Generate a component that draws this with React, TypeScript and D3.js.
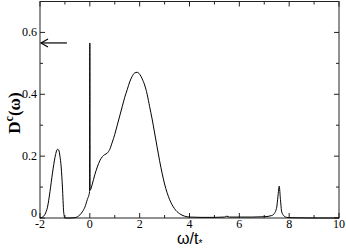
import * as d3 from "d3";

// spectral function D^c(omega)
const omega = [
	-2, -1.9, -1.8, -1.7, -1.6, -1.5, -1.4, -1.3, -1.25, -1.2, -1.15, -1.1, -1.05, -1.0,
	-0.8, -0.6, -0.5, -0.4, -0.3, -0.2, -0.1, -0.01, 0, 0.01, 0.1, 0.2, 0.3, 0.4, 0.5,
	0.6, 0.7, 0.8, 0.9, 1.0, 1.1, 1.2, 1.3, 1.4, 1.5, 1.6, 1.7, 1.8, 1.9, 2.0, 2.1, 2.2,
	2.3, 2.4, 2.5, 2.6, 2.7, 2.8, 2.9, 3.0, 3.1, 3.2, 3.4, 3.6, 3.8, 4.0, 4.5, 5.0, 5.4,
	5.5, 5.6, 6.0, 6.5, 7.0, 7.3, 7.4, 7.5, 7.55, 7.6, 7.65, 7.7, 7.8, 7.9, 8.0, 9.0, 10.0,
];
const dos = [
	0.0, 0.003, 0.012, 0.035, 0.085, 0.145, 0.195, 0.222, 0.22, 0.2, 0.165, 0.1, 0.02, 0.0,
	0.0, 0.001, 0.004, 0.01, 0.02, 0.035, 0.06, 0.085, 0.566, 0.09, 0.11, 0.14, 0.165, 0.185, 0.198,
	0.205, 0.21, 0.222, 0.245, 0.27, 0.3, 0.33, 0.36, 0.39, 0.415, 0.44, 0.458, 0.469, 0.471, 0.465, 0.45, 0.43,
	0.4, 0.36, 0.32, 0.275, 0.23, 0.185, 0.145, 0.11, 0.082, 0.06, 0.03, 0.014, 0.006, 0.003, 0.002, 0.002, 0.003,
	0.006, 0.003, 0.003, 0.003, 0.004, 0.008, 0.014, 0.035, 0.07, 0.103, 0.06, 0.02, 0.006, 0.002, 0.001, 0, 0,
];

const xMajor = [-2, 0, 2, 4, 6, 8, 10];
const xMinor = [-1, 1, 3, 5, 7, 9];
const yMajor = [0, 0.2, 0.4, 0.6];
const yMinor = [0.1, 0.3, 0.5];
const arrowY = 0.566;
const arrowFrom = -0.92;

const serif = "'Liberation Serif', 'Times New Roman', serif";
const sans = "'Liberation Sans', Arial, sans-serif";

function App() {
	const width = 346;
	const height = 249;
	const left = 40;
	const right = 339;
	const top = 1.5;
	const bottom = 218;

	const x = d3.scaleLinear().domain([-2, 10]).range([left, right]);
	const y = d3.scaleLinear().domain([0, 0.7]).range([bottom, top]);

	const pts: [number, number][] = omega.map((w, i) => [w, dos[i]]);
	const line = d3
		.line<[number, number]>()
		.x((d) => x(d[0]))
		.y((d) => y(d[1]))
		.curve(d3.curveMonotoneX);

	const tickColor = "#222";
	const ax = x(-2);
	const ay = y(arrowY);

	return (
		<svg
			width={width}
			height={height}
			style={{ position: "fixed", left: 0, top: 0, background: "white" }}
		>
			<rect x={left} y={top} width={right - left} height={bottom - top} fill="none" stroke={tickColor} strokeWidth={1} />
			{xMajor.map((t) => (
				<g key={"xM" + t}>
					<line x1={x(t)} x2={x(t)} y1={bottom} y2={bottom - 5} stroke={tickColor} />
					<line x1={x(t)} x2={x(t)} y1={top} y2={top + 5} stroke={tickColor} />
					<text x={x(t)} y={228} textAnchor="middle" style={{ fontFamily: serif }} fontSize={12}>
						{t}
					</text>
				</g>
			))}
			{xMinor.map((t) => (
				<g key={"xm" + t}>
					<line x1={x(t)} x2={x(t)} y1={bottom} y2={bottom - 3} stroke={tickColor} />
					<line x1={x(t)} x2={x(t)} y1={top} y2={top + 3} stroke={tickColor} />
				</g>
			))}
			{yMajor.map((t) => (
				<g key={"yM" + t}>
					<line x1={left} x2={left + 5} y1={y(t)} y2={y(t)} stroke={tickColor} />
					<line x1={right} x2={right - 5} y1={y(t)} y2={y(t)} stroke={tickColor} />
					<text
						x={left - 3}
						y={t === 0 ? y(t) - 1 : y(t) + 4}
						textAnchor="end"
						style={{ fontFamily: serif }}
						fontSize={12}
					>
						{t === 0 ? "0" : t.toFixed(1)}
					</text>
				</g>
			))}
			{yMinor.map((t) => (
				<g key={"ym" + t}>
					<line x1={left} x2={left + 3} y1={y(t)} y2={y(t)} stroke={tickColor} />
					<line x1={right} x2={right - 3} y1={y(t)} y2={y(t)} stroke={tickColor} />
				</g>
			))}
			<path d={line(pts) ?? ""} fill="none" stroke="black" strokeWidth={1} />
			<line x1={x(arrowFrom)} x2={ax + 1} y1={ay} y2={ay} stroke="black" strokeWidth={1.2} />
			<path
				d={`M${ax + 8},${ay - 4} L${ax + 1},${ay} L${ax + 8},${ay + 4}`}
				fill="none"
				stroke="black"
				strokeWidth={1.2}
			/>
			<text
				transform={`translate(20,${113}) rotate(-90)`}
				textAnchor="middle"
				style={{ fontFamily: serif }}
				fontWeight="bold"
				fontSize={17}
			>
				D<tspan dy={-7} fontSize={12}>c</tspan>
				<tspan dy={7}>(ω)</tspan>
			</text>
			<text x={177} y={244} style={{ fontFamily: sans }} fontSize={16}>
				ω/t<tspan dy={3} fontSize={10}>*</tspan>
			</text>
		</svg>
	);
}

export default App;
